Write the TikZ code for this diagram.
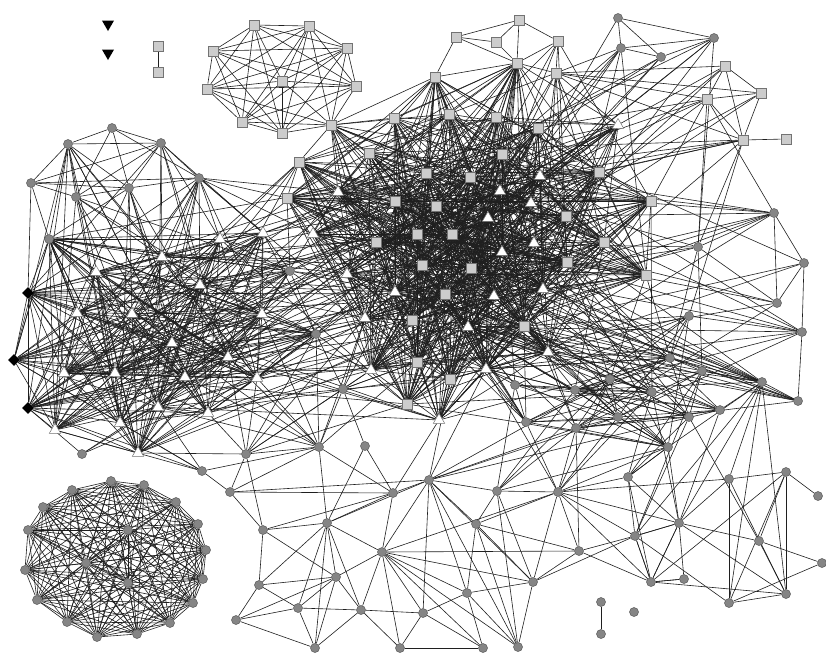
\documentclass[tikz,border=0pt]{standalone}
\usetikzlibrary{shapes.geometric,backgrounds}
\tikzset{
  lnk/.style={draw=black!88, line width=0.6pt},
  cn/.style={circle, draw=black!65, fill=black!48, line width=0.5pt, inner sep=0pt, minimum size=9pt},
  sq/.style={rectangle, draw=black!55, fill=black!20, line width=0.6pt, inner sep=0pt, minimum size=10pt},
  tw/.style={regular polygon, regular polygon sides=3, draw=black!55, fill=white, line width=0.5pt, inner sep=0pt, minimum size=13pt},
  dm/.style={diamond, fill=black, inner sep=0pt, minimum size=12pt},
  bt/.style={regular polygon, regular polygon sides=3, shape border rotate=180, fill=black, inner sep=0pt, minimum size=14pt}
}
\newcommand\randedges[2]{%
  \edef\myListR{#1}%
  \foreach \u [count=\i] in \myListR {%
    \foreach \v [count=\j] in \myListR {%
      \ifnum\j>\i
        \pgfmathsetmacro\rr{rnd}%
        \ifdim\rr pt<#2pt \draw[lnk] (\u) -- (\v);\fi
      \fi}}}
\newcommand\crossedges[3]{%
  \edef\myListA{#1}\edef\myListB{#2}%
  \foreach \u in \myListA {%
    \foreach \v in \myListB {%
      \pgfmathsetmacro\rr{rnd}%
      \ifdim\rr pt<#3pt \draw[lnk] (\u) -- (\v);\fi}}}
\begin{document}
\begin{tikzpicture}[x=1pt,y=-1pt]
\pgfmathsetseed{4242}
\useasboundingbox (0,0) rectangle (826,654);
% ---- isolated top-left
\node[bt] (bt1) at (108,24) {};
\node[bt] (bt2) at (108,53) {};
\node[sq] (p1) at (158,46) {};
\node[sq] (p2) at (158,72) {};
% ---- top-left square clique
\node[sq] (d1) at (254,25) {};
\node[sq] (d2) at (309,26) {};
\node[sq] (d3) at (213,51) {};
\node[sq] (d4) at (347,48) {};
\node[sq] (d6) at (282,81) {};
\node[sq] (d7) at (207,89) {};
\node[sq] (d8) at (356,86) {};
\node[sq] (d9) at (242,122) {};
\node[sq] (d10) at (282,133) {};
\node[sq] (d11) at (331,125) {};
% ---- top middle
\node[sq] (s1) at (456,37) {};
\node[sq] (s2) at (496,42) {};
\node[sq] (s3) at (519,20) {};
\node[sq] (s4) at (517,63) {};
\node[sq] (s5) at (558,41) {};
\node[sq] (s6) at (556,73) {};
% ---- top right
\node[cn] (c1) at (618,18) {};
\node[cn] (c2) at (621,48) {};
\node[cn] (c3) at (661,57) {};
\node[cn] (c4) at (714,38) {};
\node[sq] (r1) at (725,66) {};
\node[sq] (r2) at (707,99) {};
\node[sq] (r3) at (761,93) {};
\node[sq] (r4) at (743,140) {};
\node[sq] (r5) at (786,139) {};
\node[tw] (tw0) at (618,125) {};
% ---- big top cluster: squares
\node[sq] (b1) at (435,77) {};
\node[sq] (b2) at (394,118) {};
\node[sq] (b3) at (449,114) {};
\node[sq] (b4) at (496,117) {};
\node[sq] (b5) at (538,128) {};
\node[sq] (b7) at (299,162) {};
\node[sq] (b8) at (369,153) {};
\node[sq] (b9) at (426,173) {};
\node[sq] (b10) at (470,177) {};
\node[sq] (b11) at (502,154) {};
\node[sq] (b12) at (287,198) {};
\node[sq] (b13) at (395,201) {};
\node[sq] (b14) at (436,206) {};
\node[sq] (b15) at (599,172) {};
\node[sq] (b16) at (566,216) {};
\node[sq] (b17) at (604,242) {};
\node[sq] (b18) at (567,262) {};
\node[sq] (b19) at (646,275) {};
\node[sq] (b20) at (651,201) {};
\node[sq] (b21) at (376,242) {};
\node[sq] (b22) at (417,234) {};
\node[sq] (b23) at (452,234) {};
\node[sq] (b24) at (422,265) {};
\node[sq] (b25) at (471,268) {};
\node[sq] (b26) at (445,294) {};
\node[sq] (b27) at (412,320) {};
\node[sq] (b28) at (524,326) {};
\node[sq] (b29) at (417,362) {};
\node[sq] (b30) at (450,379) {};
\node[sq] (b31) at (407,404) {};
% ---- big top cluster: triangles
\node[tw] (tb1) at (338,192) {};
\node[tw] (tb2) at (500,191) {};
\node[tw] (tb3) at (540,176) {};
\node[tw] (tb4) at (531,203) {};
\node[tw] (tb5) at (488,218) {};
\node[tw] (tb6) at (534,243) {};
\node[tw] (tb7) at (502,252) {};
\node[tw] (tb8) at (543,289) {};
\node[tw] (tb9) at (494,296) {};
\node[tw] (tb10) at (313,234) {};
\node[tw] (tb11) at (347,274) {};
\node[tw] (tb12) at (395,292) {};
\node[tw] (tb13) at (365,318) {};
\node[tw] (tb14) at (468,327) {};
\node[tw] (tb15) at (548,352) {};
\node[tw] (tb16) at (486,369) {};
\node[tw] (tb17) at (371,370) {};
\node[tw] (tb18) at (439,420) {};
% ---- left cluster
\node[cn] (a1) at (112,128) {};
\node[cn] (a2) at (68,144) {};
\node[cn] (a3) at (161,143) {};
\node[cn] (a4) at (31,183) {};
\node[cn] (a5) at (76,197) {};
\node[cn] (a6) at (129,188) {};
\node[cn] (a7) at (199,178) {};
\node[cn] (a8) at (49,239) {};
\node[cn] (lp1) at (290,271) {};
\node[cn] (lp2) at (316,334) {};
\node[cn] (a9) at (82,454) {};
\node[cn] (a10) at (202,471) {};
\node[dm] (dA) at (28,293) {};
\node[dm] (dB) at (14,360) {};
\node[dm] (dC) at (28,408) {};
\node[tw] (t1) at (162,257) {};
\node[tw] (t2) at (96,272) {};
\node[tw] (t3) at (220,239) {};
\node[tw] (t4) at (263,233) {};
\node[tw] (t5) at (200,285) {};
\node[tw] (t6) at (77,313) {};
\node[tw] (t7) at (132,314) {};
\node[tw] (t8) at (262,314) {};
\node[tw] (t9) at (172,343) {};
\node[tw] (t10) at (228,357) {};
\node[tw] (t11) at (64,373) {};
\node[tw] (t12) at (115,373) {};
\node[tw] (t13) at (185,377) {};
\node[tw] (t14) at (257,378) {};
\node[tw] (t15) at (158,407) {};
\node[tw] (t16) at (208,413) {};
\node[tw] (t17) at (120,423) {};
\node[tw] (t18) at (55,430) {};
\node[tw] (t19) at (138,453) {};
% ---- right middle cluster
\node[cn] (k1) at (515,385) {};
\node[cn] (k2) at (575,390) {};
\node[cn] (k3) at (610,379) {};
\node[cn] (k4) at (652,392) {};
\node[cn] (k5) at (702,371) {};
\node[cn] (k6) at (670,358) {};
\node[cn] (k7) at (526,422) {};
\node[cn] (k8) at (576,428) {};
\node[cn] (k9) at (618,417) {};
\node[cn] (k10) at (689,417) {};
\node[cn] (k11) at (720,410) {};
\node[cn] (k12) at (668,447) {};
\node[cn] (k13) at (689,316) {};
% ---- right column
\node[cn] (ra) at (774,213) {};
\node[cn] (rb) at (698,247) {};
\node[cn] (rc) at (804,263) {};
\node[cn] (rd) at (777,303) {};
\node[cn] (re) at (802,332) {};
\node[cn] (rf) at (762,382) {};
\node[cn] (rg) at (798,401) {};
% ---- lower sparse
\node[cn] (n1) at (246,454) {};
\node[cn] (n2) at (319,447) {};
\node[cn] (n3) at (365,446) {};
\node[cn] (n4) at (230,492) {};
\node[cn] (n5) at (263,530) {};
\node[cn] (n6) at (259,585) {};
\node[cn] (n7) at (236,620) {};
\node[cn] (n8) at (393,493) {};
\node[cn] (n9) at (429,480) {};
\node[cn] (n10) at (327,523) {};
\node[cn] (n11) at (382,552) {};
\node[cn] (n12) at (336,577) {};
\node[cn] (n13) at (298,608) {};
\node[cn] (n14) at (361,610) {};
\node[cn] (n15) at (423,613) {};
\node[cn] (n16) at (315,648) {};
\node[cn] (n17) at (400,648) {};
\node[cn] (n18) at (343,389) {};
\node[cn] (m1) at (497,491) {};
\node[cn] (m2) at (476,524) {};
\node[cn] (m3) at (467,593) {};
\node[cn] (m4) at (533,582) {};
\node[cn] (m5) at (483,648) {};
\node[cn] (m6) at (518,647) {};
\node[cn] (g1) at (558,492) {};
\node[cn] (g3) at (628,477) {};
\node[cn] (g4) at (579,551) {};
\node[cn] (g5) at (635,536) {};
\node[cn] (g6) at (651,582) {};
\node[cn] (g7) at (679,523) {};
\node[cn] (g8) at (684,579) {};
\node[cn] (g9) at (729,479) {};
\node[cn] (g10) at (786,472) {};
\node[cn] (g11) at (818,496) {};
\node[cn] (g12) at (759,541) {};
\node[cn] (g13) at (822,563) {};
\node[cn] (g14) at (729,603) {};
\node[cn] (g15) at (786,594) {};
\node[cn] (q1) at (601,602) {};
\node[cn] (q2) at (601,634) {};
\node[cn] (q3) at (634,612) {};
% ---- bottom-left clique
\foreach \nm/\px/\py in {e1/111/481, e2/144/485, e3/72/490, e4/176/502, e5/43/507, e6/198/524, e7/28/530, e8/206/550, e9/25/570, e10/203/579, e11/37/600, e12/193/603, e13/67/622, e14/170/623, e15/97/637, e16/137/634, e17/128/530, e18/86/563, e19/128/583}
  \node[cn] (\nm) at (\px,\py) {};

\begin{pgfonlayer}{background}
\fill[white] (0,0) rectangle (826,654);
% bottom-left clique (complete)
\randedges{e1,e2,e3,e4,e5,e6,e7,e8,e9,e10,e11,e12,e13,e14,e15,e16,e17,e18,e19}{1.01}
% top-left square clique
\randedges{d1,d2,d3,d4,d6,d7,d8,d9,d10}{1.01}
\foreach \u/\v in {d11/d10,d11/d9,d11/d8,d11/d4,d11/d6,d11/d2,d11/d7,p1/p2}
  \draw[lnk] (\u) -- (\v);
% top middle / top right
\foreach \u/\v in {s1/s2,s1/s3,s1/s4,s2/s3,s2/s4,s3/s4,s3/s5,s4/s5,s5/s6,s4/s6,
  s6/r1,s6/r2,s6/r3,s6/r4,c1/c2,c1/c3,c1/c4,c2/c3,c2/c4,c3/c4,
  r1/r3,r1/r4,r1/r2,r3/r4,r2/r4,r4/r5,r2/r3,b1/d11,b1/s1,b1/s4,d11/b7,s4/tw0,s6/tw0,b1/b2,b1/b3}
  \draw[lnk] (\u) -- (\v);
\def\Bcore{b2,b3,b4,b5,b7,b8,b9,b10,b11,b12,b13,b14,b15,b16,b17,b18,b19,b20,b21,b22,b23,b24,b25,b26,b27,b28,b29,b30,b31,tb1,tb2,tb3,tb4,tb5,tb6,tb7,tb8,tb9,tb10,tb11,tb12,tb13,tb14,tb15,tb16,tb17,tb18}
\def\Acore{dA,dB,dC,t1,t2,t3,t4,t5,t6,t7,t8,t9,t10,t11,t12,t13,t14,t15,t16,t17,t18,t19,a8,lp1,lp2}
\def\Ccore{k1,k2,k3,k4,k5,k6,k7,k8,k9,k10,k11,k12,k13,tb15,tb16,tb14,b28}
\def\Rset{ra,rb,rc,rd,re,rf,rg}
\randedges{\Bcore}{0.52}
\crossedges{b1,d11,s4,tw0}{\Bcore}{0.45}
\crossedges{c1,c2,c3,c4,r1,r2,r3,r4,s6,s5}{\Bcore}{0.1}
\randedges{\Acore}{0.72}
\crossedges{\Acore}{\Bcore}{0.07}
\foreach \u/\v in {a1/a2,a1/a3,a1/a6,a1/a5,a2/a3,a2/a4,a2/a5,a2/a6,a3/a6,a3/a4,a3/a5,
  a4/a5,a4/a6,a4/a7,a5/a6,a6/a7,a4/a8,a4/dA,a3/t1,a1/a7,a3/a7}
  \draw[lnk] (\u) -- (\v);
\crossedges{a5,a6,a7,a8,a2,a3}{\Acore}{0.35}
\crossedges{a7}{tb10,tb11,tb1,b12,b7,b21,tb12,tb13,b13,b8}{0.6}
\crossedges{a9,a10}{t11,t12,t13,t14,t15,t16,t17,t18,t19,t9,t10,dC,dB}{0.5}
\randedges{\Ccore}{0.55}
\crossedges{\Bcore}{\Ccore}{0.07}
\foreach \u/\v in {ra/rc,ra/rd,rc/rd,rc/re,re/rg,rf/rg,rd/rb,ra/rb,rf/k5,rf/k11,re/k13}
  \draw[lnk] (\u) -- (\v);
\crossedges{\Rset}{\Bcore}{0.1}
\crossedges{\Rset}{\Ccore}{0.2}
\crossedges{c4,r2,r4}{ra,rb,k13}{0.4}
% right-bottom cluster
\randedges{rf,g7,g8,g9,g10,g11,g12,g13,g14,g15,g5,g6}{0.45}
\crossedges{k4,k5,k10,k11,k12,k6}{g7,g8,g9,g12,g5,g14,g3}{0.22}
% hubs in the lower region
\crossedges{g1}{k1,k2,k3,k7,k8,k9,k4,k12,tb16,k10}{0.7}
\crossedges{n9}{k1,k2,k7,k8,k3,k9,k12,k4,k10,k11,tb16,tb18,b30}{0.6}
\crossedges{m1}{k1,k2,k3,k7,k8,k9,k4,k5,k6,k10,k11,k12}{0.6}
\crossedges{tb17,tb18,b31,b29,tb13,lp2}{n2,n3,n18,n8,n9,n1}{0.3}
\crossedges{n18}{tb11,tb12,tb13,tb17,b27,b21,lp1,lp2,t8,t14,t10,b29}{0.5}
\crossedges{n2}{t8,t10,t13,t14,t16,lp2,tb13,tb17,t9,t15,t5}{0.6}
\crossedges{n1}{t13,t14,t16,t10,t15,t17,t19}{0.5}
\foreach \u/\v in {n1/n2,n1/n4,n1/n5,n2/n8,n2/n10,n2/n4,n2/a10,n3/n8,n3/n18,n3/n10,
  n4/n8,n4/n5,n4/a10,n4/n9,n5/n10,n5/n6,n5/n12,n5/n8,n6/n7,n6/n13,n6/n12,n6/n10,
  n7/n13,n7/n16,n7/n12,n8/n9,n8/n10,n8/n11,n9/n11,n9/n15,n9/m3,n9/m6,n9/m4,n9/m2,n9/m1,n9/n10,
  n10/n13,n10/n14,n10/n16,n10/n12,n10/n11,n11/n14,n11/n15,n11/n17,n11/m5,n11/m3,n11/m4,n11/m6,
  n11/g4,n11/g1,n11/n12,n12/n13,n12/n14,n12/n16,n13/n14,n13/n16,n14/n15,n14/n17,n14/n16,
  n15/n17,n15/m5,n15/m3,n17/m5,m1/m2,m1/m6,m1/m4,m1/g1,m2/m3,m2/g1,m2/m6,m2/m4,m2/g4,
  m3/m5,m3/m6,m3/m4,m4/m6,m4/g1,m4/g4,m4/g5,g1/g4,g1/g3,g1/g9,g1/g6,g1/g5,g1/g7,
  g3/g6,g3/g5,g3/g7,g3/k12,g4/g5,g4/g6,g4/k8,g5/g6,g5/g7,g6/g7,g6/g8,n18/n2,n18/n1,q1/q2}
  \draw[lnk] (\u) -- (\v);
\end{pgfonlayer}
\end{tikzpicture}
\end{document}
